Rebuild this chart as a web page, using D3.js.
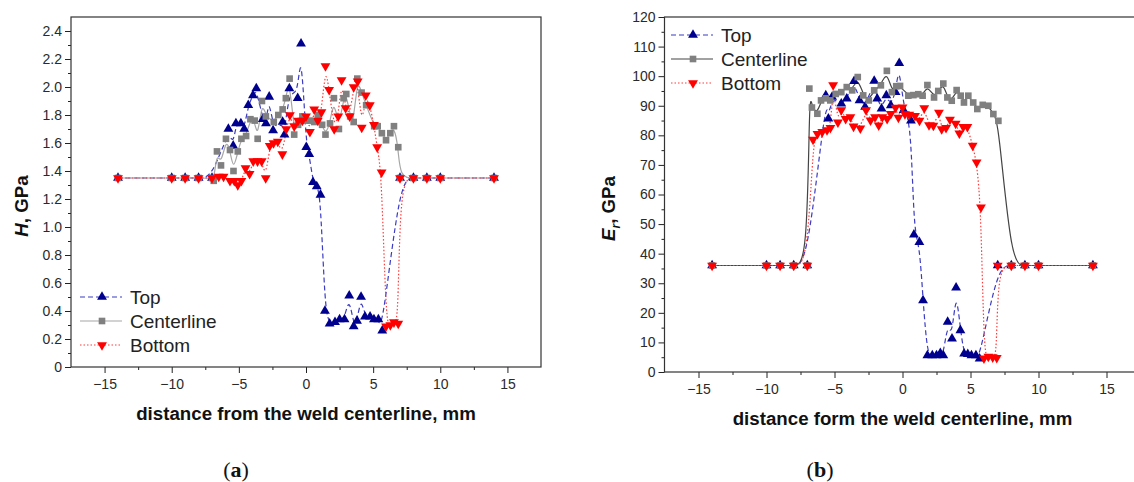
<!DOCTYPE html>
<html lang="en">
<head>
  <meta charset="UTF-8">
  <title>Hardness and reduced modulus across the weld</title>
  <style>
    body, html {
      margin: 0;
      padding: 0;
      background-color: #fff;
    }
    #svg {
      display: block;
    }
  </style>
</head>
<body>
  <svg id="svg" width="1134" height="482"></svg>
  <script src="https://d3js.org/d3.v7.min.js"></script>
  <script>
    // [distance from weld centerline (mm), value]
    const hTop = [[-14,1.35],[-10,1.35],[-9,1.35],[-8,1.35],[-7,1.35],[-5.78,1.70],[-5.42,1.58],[-5.22,1.74],[-4.85,1.74],[-4.6,1.70],[-4.3,1.87],[-3.95,1.94],[-3.7,1.99],[-3.22,1.77],[-2.98,1.74],[-2.74,1.93],[-2.45,1.69],[-1.74,1.75],[-1.6,1.66],[-1.24,1.99],[-0.62,1.92],[-0.37,2.31],[0.02,1.57],[0.24,1.52],[0.52,1.32],[0.8,1.29],[1.08,1.23],[1.41,0.40],[1.76,0.31],[2.16,0.32],[2.5,0.34],[2.87,0.34],[3.22,0.51],[3.55,0.29],[3.8,0.33],[4.1,0.50],[4.39,0.36],[4.77,0.36],[5.06,0.34],[5.39,0.34],[5.68,0.26],[7,1.35],[8,1.35],[9,1.35],[10,1.35],[14,1.35]]
    const hCenter = [[-14,1.35],[-10,1.35],[-9,1.35],[-8,1.35],[-7,1.35],[-6.87,1.33],[-6.63,1.54],[-6.33,1.44],[-5.96,1.63],[-5.66,1.55],[-5.4,1.40],[-5.08,1.54],[-4.81,1.63],[-4.46,1.65],[-4.14,1.77],[-3.82,1.76],[-3.6,1.63],[-3.28,1.90],[-2.99,1.79],[-2.4,1.75],[-2.06,1.80],[-1.74,1.84],[-1.5,1.92],[-1.22,2.06],[-0.88,1.66],[-0.59,1.73],[-0.27,1.79],[0,1.76],[0.29,1.76],[0.61,1.75],[0.88,1.80],[1.2,1.73],[1.45,1.66],[1.79,1.74],[2.08,1.92],[2.45,1.70],[2.8,1.92],[3.0,1.95],[3.29,1.79],[3.55,1.75],[3.82,2.06],[4.14,1.96],[4.48,1.87],[5.08,1.72],[5.34,1.72],[5.65,1.67],[5.96,1.62],[6.28,1.67],[6.55,1.72],[6.87,1.57],[7,1.35],[8,1.35],[9,1.35],[10,1.35],[14,1.35]]
    const hBottom = [[-14,1.35],[-10,1.35],[-9,1.35],[-8,1.35],[-7,1.35],[-6.5,1.36],[-6.14,1.36],[-5.66,1.33],[-5.34,1.33],[-5.08,1.30],[-4.81,1.33],[-4.5,1.42],[-4.2,1.38],[-3.93,1.47],[-3.61,1.47],[-3.3,1.47],[-3.0,1.35],[-2.7,1.58],[-2.42,1.60],[-2.1,1.61],[-1.76,1.52],[-1.47,1.70],[-1.2,1.80],[-0.88,1.72],[-0.59,1.76],[-0.27,1.76],[0,1.79],[0.29,1.68],[0.61,1.84],[0.88,1.76],[1.15,1.82],[1.45,2.15],[1.72,1.98],[2.1,1.70],[2.4,1.79],[2.65,2.05],[2.95,1.85],[3.25,1.79],[3.55,2.0],[3.85,2.04],[4.15,1.71],[4.45,1.94],[4.75,1.87],[5.06,1.73],[5.3,1.57],[5.63,1.39],[5.96,0.29],[6.28,0.30],[6.55,0.32],[6.87,0.31],[7,1.35],[8,1.35],[9,1.35],[10,1.35],[14,1.35]]

    const eTop = [[-14,36],[-10,36],[-9,36],[-8,36],[-7,36],[-5.64,93.5],[-5.45,85.6],[-5.18,93],[-4.5,90.7],[-4.1,92.4],[-3.56,98.3],[-3.16,91.8],[-2.75,89.6],[-2.08,98.4],[-1.86,92.4],[-1.54,89],[-1.19,93.5],[-0.86,90.1],[-0.51,94.6],[-0.24,104.4],[0.08,88.5],[0.62,85],[0.84,46.4],[1.24,43.9],[1.51,24.2],[1.83,5.6],[2.19,5.6],[2.5,5.6],[2.78,6.4],[3.0,5.6],[3.32,16.9],[3.64,11.3],[3.94,28.5],[4.26,14.1],[4.53,6.2],[4.8,6.0],[5.07,5.6],[5.4,5.6],[5.67,4.5],[7,36],[8,36],[9,36],[10,36],[14,36]]
    const eCenter = [[-14,36],[-10,36],[-9,36],[-8,36],[-7,36],[-6.85,95.8],[-6.66,89.4],[-6.26,87.3],[-5.99,91.8],[-5.65,92.5],[-5.31,91.8],[-4.91,94],[-4.5,94.6],[-4.1,96.3],[-3.7,95.2],[-3.29,99.7],[-2.89,93.5],[-2.48,91.8],[-2.08,95.2],[-1.59,96.9],[-1.15,101.8],[-0.78,94.6],[-0.46,96.6],[-0.18,96.7],[0.43,93.4],[0.8,93.6],[1.16,93.9],[1.48,93.4],[1.83,97],[2.32,92.8],[2.63,95],[3.0,97.5],[3.3,92.8],[3.62,91.7],[3.98,95.3],[4.28,93.4],[4.52,91.1],[4.84,93.4],[5.2,91.1],[5.5,88.9],[5.9,90.3],[6.31,90],[6.68,87.2],[7.05,84.9],[8,36],[9,36],[10,36],[14,36]]
    const eBottom = [[-14,36],[-10,36],[-9,36],[-8,36],[-7,36],[-6.58,78.6],[-6.25,80.5],[-5.9,81.2],[-5.55,81.8],[-5.3,82.5],[-5.1,97],[-4.75,84.4],[-4.5,88.5],[-4.18,85.6],[-3.83,86.2],[-3.6,83],[-3.1,82.4],[-2.68,88.5],[-2.35,85.1],[-2.02,86.2],[-1.75,83.4],[-1.48,86.2],[-1.13,85.6],[-0.86,87.3],[-0.51,89.4],[-0.3,86],[0.0,89.5],[0.18,87.2],[0.5,87],[0.92,86.6],[1.25,85],[1.6,89.2],[1.95,83.5],[2.27,83.3],[2.68,87.7],[2.88,82.1],[3.2,82.5],[3.49,85.3],[3.91,84],[4.18,80.7],[4.47,82.9],[4.77,82.9],[5.16,76.5],[5.45,70.9],[5.77,55.7],[5.99,4.6],[6.31,5.2],[6.63,5.0],[6.93,4.8],[7,36],[8,36],[9,36],[10,36],[14,36]]

    const seriesNames = ['Top', 'Centerline', 'Bottom']
    const xTicks = [-15, -10, -5, 0, 5, 10, 15]
    const xMinor = [-12.5, -7.5, -2.5, 2.5, 7.5, 12.5]
    const hTicks = [0, 0.2, 0.4, 0.6, 0.8, 1.0, 1.2, 1.4, 1.6, 1.8, 2.0, 2.2, 2.4]
    const eTicks = [0, 10, 20, 30, 40, 50, 60, 70, 80, 90, 100, 110, 120]

    const svg = d3.select('#svg')
    svg.append('rect').attr('width', 1134).attr('height', 482).attr('fill', '#fff')

    const font = "'Liberation Sans', Arial, sans-serif"

    function drawPanel(p) {
      const g = svg.append('g')
      const x = d3.scaleLinear().domain([-17.5, 17.5]).range([p.left, p.right])
      const y = d3.scaleLinear().domain(p.yDomain).range([p.bottom, p.top])

      // axes
      g.append('g')
        .attr('transform', `translate(0, ${p.bottom})`)
        .call(d3.axisBottom(x).tickValues(xMinor).tickSize(3).tickSizeOuter(0).tickFormat(''))
      g.append('g')
        .attr('transform', `translate(0, ${p.bottom})`)
        .call(d3.axisBottom(x).tickValues(xTicks).tickSize(6).tickSizeOuter(0).tickPadding(6))
      g.append('g')
        .attr('transform', `translate(${p.left}, 0)`)
        .call(d3.axisLeft(y).tickValues(p.yMinor).tickSize(3).tickSizeOuter(0).tickFormat(''))
      g.append('g')
        .attr('transform', `translate(${p.left}, 0)`)
        .call(d3.axisLeft(y).tickValues(p.yTicks).tickSize(6).tickSizeOuter(0).tickPadding(3)
          .tickFormat(p.fmt))
      g.selectAll('.tick line').attr('stroke', '#222')
      g.selectAll('.domain').attr('stroke', 'none')
      g.selectAll('.tick text')
        .style('font-family', font)
        .style('font-size', '14px')
        .attr('fill', '#2a2a2a')

      g.append('rect')
        .attr('x', p.left).attr('y', p.top)
        .attr('width', p.right - p.left).attr('height', p.bottom - p.top)
        .attr('fill', 'none').attr('stroke', '#333').attr('stroke-width', 1.2)

      const line = d3.line().curve(d3.curveBasis).x(d => x(d[0])).y(d => y(d[1]))
      const styles = [
        { color: '#3b3bc4', dash: '5,3', fill: '#00008f', shape: 'up' },
        { color: p.centerColor, dash: null, fill: '#808080', shape: 'sq' },
        { color: '#ff3b3b', dash: '1.5,2', fill: '#ff0000', shape: 'down' }
      ]
      const symbolPath = s => s === 'sq'
        ? d3.symbol().type(d3.symbolSquare).size(44)()
        : d3.symbol().type(d3.symbolTriangle).size(42)()

      p.series.forEach((data, i) => {
        const st = styles[i]
        g.append('path')
          .datum(data)
          .attr('d', line)
          .attr('fill', 'none')
          .attr('stroke', st.color)
          .attr('stroke-width', 1.2)
          .attr('stroke-dasharray', st.dash)
      })
      p.series.forEach((data, i) => {
        const st = styles[i]
        g.append('g').selectAll('path')
          .data(data)
          .enter()
          .append('path')
          .attr('d', symbolPath(st.shape))
          .attr('transform', d => `translate(${x(d[0])}, ${y(d[1])})` + (st.shape === 'down' ? ' rotate(180)' : ''))
          .attr('fill', st.fill)
      })

      // legend
      const lg = g.append('g')
      seriesNames.forEach((name, i) => {
        const st = styles[i]
        const ly = p.legend.y + i * 24
        lg.append('line')
          .attr('x1', p.legend.x).attr('x2', p.legend.x + 42)
          .attr('y1', ly).attr('y2', ly)
          .attr('stroke', st.color).attr('stroke-width', 1.2)
          .attr('stroke-dasharray', st.dash)
        lg.append('path')
          .attr('d', symbolPath(st.shape))
          .attr('transform', `translate(${p.legend.x + 22}, ${ly})` + (st.shape === 'down' ? ' rotate(180)' : ''))
          .attr('fill', st.fill)
        lg.append('text')
          .attr('x', p.legend.x + 50).attr('y', ly + 7)
          .text(name)
          .style('font-family', font)
          .style('font-size', '19px')
          .attr('fill', '#222')
      })

      // axis titles
      g.append('text')
        .attr('x', (x(0))).attr('y', p.bottom + 53)
        .attr('text-anchor', 'middle')
        .style('font-family', font)
        .style('font-size', '18.7px')
        .style('font-weight', 'bold')
        .attr('fill', '#111')
        .text(p.xTitle)

      const yt = g.append('text')
        .attr('transform', `translate(${p.yTitleX}, ${(p.top + p.bottom) / 2 + 14}) rotate(-90)`)
        .attr('text-anchor', 'middle')
        .style('font-family', font)
        .style('font-size', '18.7px')
        .style('font-weight', 'bold')
        .attr('fill', '#111')
      yt.append('tspan').style('font-style', 'italic').text(p.yTitle[0])
      if (p.yTitle[1]) {
        yt.append('tspan').style('font-style', 'italic').style('font-size', '12px')
          .attr('dy', 5).text(p.yTitle[1])
        yt.append('tspan').attr('dy', -5).text(', GPa')
      } else {
        yt.append('tspan').text(', GPa')
      }

      // caption
      const cap = g.append('text')
        .attr('x', p.caption).attr('y', 477)
        .attr('text-anchor', 'middle')
        .style('font-family', "'Liberation Serif', 'Times New Roman', serif")
        .style('font-size', '22px')
        .attr('fill', '#111')
      cap.append('tspan').text('(')
      cap.append('tspan').style('font-weight', 'bold').text(p.letter)
      cap.append('tspan').text(')')
    }

    drawPanel({
      left: 71, right: 541, top: 17, bottom: 367,
      yDomain: [0, 2.5], yTicks: hTicks,
      yMinor: [0.1, 0.3, 0.5, 0.7, 0.9, 1.1, 1.3, 1.5, 1.7, 1.9, 2.1, 2.3],
      fmt: d => d === 0 ? '0' : d3.format('.1f')(d),
      series: [hTop, hCenter, hBottom],
      centerColor: '#a6a6a6',
      legend: { x: 80, y: 297 },
      xTitle: 'distance from the weld centerline, mm',
      yTitle: ['H'], yTitleX: 28,
      caption: 236, letter: 'a'
    })

    drawPanel({
      left: 664.5, right: 1140.5, top: 17, bottom: 372,
      yDomain: [0, 120], yTicks: eTicks,
      yMinor: [5, 15, 25, 35, 45, 55, 65, 75, 85, 95, 105, 115],
      fmt: d3.format('d'),
      series: [eTop, eCenter, eBottom],
      centerColor: '#444',
      legend: { x: 671, y: 35 },
      xTitle: 'distance form the weld centerline, mm',
      yTitle: ['E', 'r'], yTitleX: 615,
      caption: 820, letter: 'b'
    })
  </script>
</body>
</html>
